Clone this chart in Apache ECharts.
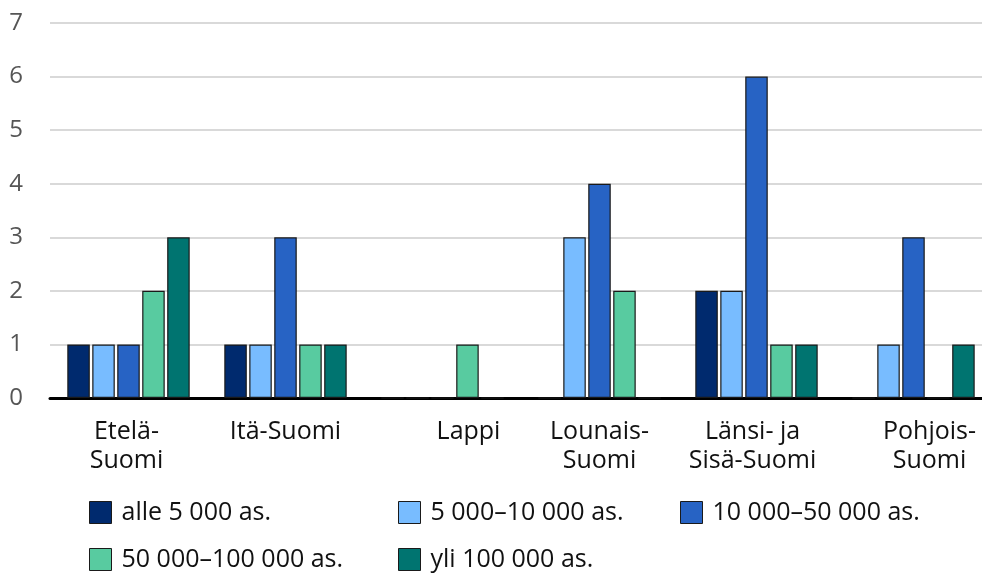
<!DOCTYPE html>
<html>
<head>
<meta charset="utf-8">
<script src="https://cdn.jsdelivr.net/npm/echarts@6/dist/echarts.min.js"></script>
<style>
  html, body { margin: 0; padding: 0; background: #fff; overflow: hidden; }
  #chart { width: 992px; height: 573px; }
</style>
</head>
<body>
<div id="chart"></div>
<script>
// Regions (axis categories)
const regions = ['Etelä-\nSuomi', 'Itä-Suomi', 'Lappi', 'Lounais-\nSuomi', 'Länsi- ja\nSisä-Suomi', 'Pohjois-\nSuomi'];

// Municipality size classes
const sizeClasses = ['alle 5 000 as.', '5 000–10 000 as.', '10 000–50 000 as.', '50 000–100 000 as.', 'yli 100 000 as.'];

// Counts per region for each size class
const alle5000 = [1, 1, 0, 0, 2, 0];
const from5000to10000 = [1, 1, 0, 3, 2, 1];
const from10000to50000 = [1, 3, 0, 4, 6, 3];
const from50000to100000 = [2, 1, 1, 2, 1, 0];
const yli100000 = [3, 1, 0, 0, 1, 1];

const yTicks = [0, 1, 2, 3, 4, 5, 6, 7];

const seriesValues = [alle5000, from5000to10000, from10000to50000, from50000to100000, yli100000];
const colors = ['#002a6e', '#78bcff', '#2763c4', '#58cba0', '#007470'];

const FONT = 'Open Sans';

const chart = echarts.init(document.getElementById('chart'), null, { renderer: 'canvas' });

// One legend block per size class so the items sit in fixed columns
const legendPos = [
  { left: 89, top: 500 },
  { left: 398, top: 500 },
  { left: 680, top: 500 },
  { left: 89, top: 547 },
  { left: 398, top: 547 }
];

const legends = sizeClasses.map((name, i) => ({
  data: [name],
  left: legendPos[i].left,
  top: legendPos[i].top,
  itemWidth: 22,
  itemHeight: 22,
  itemGap: 0,
  padding: 0,
  selectedMode: false,
  icon: 'rect',
  textStyle: { fontFamily: FONT, fontSize: 25, color: '#111', padding: [0, 0, 0, 5] },
  itemStyle: { borderColor: '#1a1a1a', borderWidth: 1 }
}));

// Horizontal nudge of some category labels (left padding, px)
const labelNudge = [-4, 0, 52, 0, -8, 32];
const labelRich = {};
labelNudge.forEach((p, i) => {
  labelRich['c' + i] = {
    fontFamily: FONT, fontSize: 25, color: '#111', lineHeight: 29,
    padding: p >= 0 ? [0, 0, 0, p] : [0, -p, 0, 0]
  };
});

chart.setOption({
  animation: false,
  backgroundColor: '#fff',
  grid: { left: 50, right: 0, top: 23, bottom: 175, containLabel: false },
  legend: legends,
  xAxis: {
    type: 'category',
    data: regions,
    axisTick: { show: false },
    axisLine: { show: true, lineStyle: { color: '#000', width: 3 } },
    axisLabel: {
      fontFamily: FONT, fontSize: 25, color: '#111', lineHeight: 29, margin: 19, interval: 0,
      formatter: (value, idx) => value.split('\n').map(line => '{c' + idx + '|' + line + '}').join('\n'),
      rich: labelRich
    }
  },
  yAxis: {
    type: 'value',
    min: yTicks[0],
    max: yTicks[yTicks.length - 1],
    interval: 1,
    axisLine: { show: false },
    axisTick: { show: false },
    axisLabel: { fontFamily: FONT, fontSize: 24, color: '#555', margin: 34, align: 'center' },
    splitLine: { lineStyle: { color: '#d9d9d9', width: 2 } }
  },
  series: sizeClasses.map((name, i) => ({
    name: name,
    type: 'bar',
    data: seriesValues[i],
    barWidth: 22.5,
    barGap: '11%',
    itemStyle: { color: colors[i], borderColor: '#1a1a1a', borderWidth: 1.2 }
  }))
});
</script>
</body>
</html>
